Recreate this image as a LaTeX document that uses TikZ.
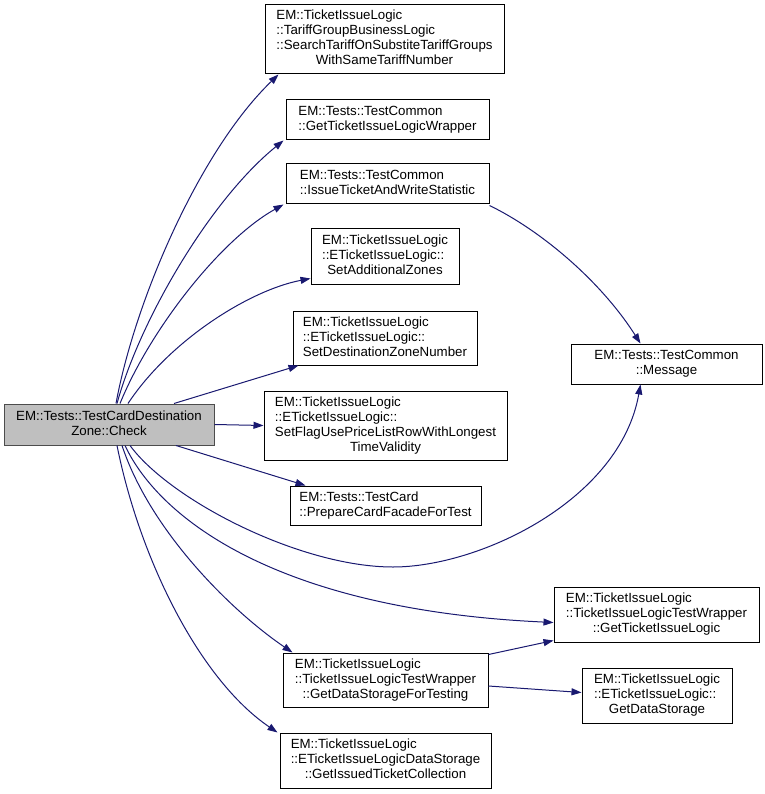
\documentclass[tikz,border=0pt]{standalone}
\usepackage{fontspec}
\setmainfont{Liberation Sans}
\usepackage{xcolor}
\usepackage{tikz}
\usetikzlibrary{arrows.meta}

\definecolor{callblue}{HTML}{191970}
\newcommand{\calllabel}[2]{\begin{tabular}{@{}l@{}}#1\\\multicolumn{1}{@{}c@{}}{#2}\end{tabular}}

\begin{document}
\begin{tikzpicture}[x=1pt, y=-1pt,
    font=\fontsize{13.3}{15}\selectfont,
    fnbox/.style={draw=black, line width=1pt, fill=white, inner sep=0pt},
    rootbox/.style={fnbox, draw=black!70, fill=black!25},
    call/.style={draw=callblue, line width=1pt, -{Triangle[length=10pt, width=7pt]}}]
    \useasboundingbox (0,0) rectangle (764,794);

    % Hàm gốc
    \node[rootbox, minimum width=210pt, minimum height=41pt] (check) at (109,424.5)
        {\calllabel{EM::Tests::TestCardDestination}{Zone::Check}};

    % Các hàm được gọi (cột giữa)
    \node[fnbox, minimum width=239pt, minimum height=69pt] (search) at (384.5,39.5)
        {\calllabel{EM::TicketIssueLogic\\::TariffGroupBusinessLogic\\::SearchTariffOnSubstiteTariffGroups}{WithSameTariffNumber}};
    \node[fnbox, minimum width=203pt, minimum height=40pt] (wrapper) at (387.5,120)
        {\calllabel{EM::Tests::TestCommon}{::GetTicketIssueLogicWrapper}};
    \node[fnbox, minimum width=203pt, minimum height=40pt] (issue) at (387.5,184)
        {\calllabel{EM::Tests::TestCommon}{::IssueTicketAndWriteStatistic}};
    \node[fnbox, minimum width=148pt, minimum height=55pt] (zones) at (385,256.5)
        {\calllabel{EM::TicketIssueLogic\\::ETicketIssueLogic::}{SetAdditionalZones}};
    \node[fnbox, minimum width=184pt, minimum height=54pt] (destzone) at (385,338)
        {\calllabel{EM::TicketIssueLogic\\::ETicketIssueLogic::}{SetDestinationZoneNumber}};
    \node[fnbox, minimum width=243pt, minimum height=69pt] (flag) at (385.5,425.5)
        {\calllabel{EM::TicketIssueLogic\\::ETicketIssueLogic::\\SetFlagUsePriceListRowWithLongest}{TimeValidity}};
    \node[fnbox, minimum width=191pt, minimum height=39pt] (facade) at (385.5,505.5)
        {\calllabel{EM::Tests::TestCard}{::PrepareCardFacadeForTest}};
    \node[fnbox, minimum width=205pt, minimum height=54pt] (fortest) at (385.5,680)
        {\calllabel{EM::TicketIssueLogic\\::TicketIssueLogicTestWrapper}{::GetDataStorageForTesting}};
    \node[fnbox, minimum width=211pt, minimum height=55pt] (issued) at (385.5,760.5)
        {\calllabel{EM::TicketIssueLogic\\::ETicketIssueLogicDataStorage}{::GetIssuedTicketCollection}};

    % Cột phải
    \node[fnbox, minimum width=191pt, minimum height=40pt] (message) at (666.5,364)
        {\calllabel{EM::Tests::TestCommon}{::Message}};
    \node[fnbox, minimum width=205pt, minimum height=55pt] (getlogic) at (656.5,614.5)
        {\calllabel{EM::TicketIssueLogic\\::TicketIssueLogicTestWrapper}{::GetTicketIssueLogic}};
    \node[fnbox, minimum width=150pt, minimum height=55pt] (storage) at (657,695.5)
        {\calllabel{EM::TicketIssueLogic\\::ETicketIssueLogic::}{GetDataStorage}};

    % Các lời gọi đi lên
    \draw[call] ([xshift=7pt]check.north) .. controls (135,300) and (200,150) .. ([xshift=14pt]search.south west);
    \draw[call] ([xshift=8pt]check.north) .. controls (140,320) and (210,200) .. ([xshift=-2pt]wrapper.south west);
    \draw[call] ([xshift=11pt]check.north) .. controls (150,330) and (220,240) .. ([xshift=-2pt]issue.south west);
    \draw[call] ([xshift=19pt]check.north) .. controls (170,340) and (250,290) .. ([yshift=6pt]zones.south west);
    \draw[call] ([xshift=65pt]check.north) -- ([xshift=6pt]destzone.south west);
    \draw[call] (check.east) -- (flag.west);
    \draw[call] ([xshift=67pt]check.south) -- ([xshift=16pt]facade.north west);

    % Các lời gọi đi xuống
    \draw[call] ([xshift=21pt]check.south) .. controls (170,500) and (300,567) .. (393,567)
        .. controls (480,567) and (620,500) .. ([xshift=-26pt]message.south);
    \draw[call] ([xshift=16pt]check.south) .. controls (160,520) and (280,610) .. ([yshift=-8pt]getlogic.west);
    \draw[call] ([xshift=13pt]check.south) .. controls (150,530) and (230,610) .. ([xshift=10pt]fortest.north west);
    \draw[call] ([xshift=8pt]check.south) .. controls (140,560) and (200,680) .. ([xshift=-2pt]issued.north west);
    \draw[call] ([yshift=-1pt]issue.south east) .. controls (540,230) and (600,280) .. ([xshift=-26pt]message.north);
    \draw[call] ([yshift=-2pt]fortest.north east) -- ([yshift=2pt]getlogic.south west);
    \draw[call] ([yshift=-6pt]fortest.east) -- ([yshift=3pt]storage.west);
\end{tikzpicture}
\end{document}
